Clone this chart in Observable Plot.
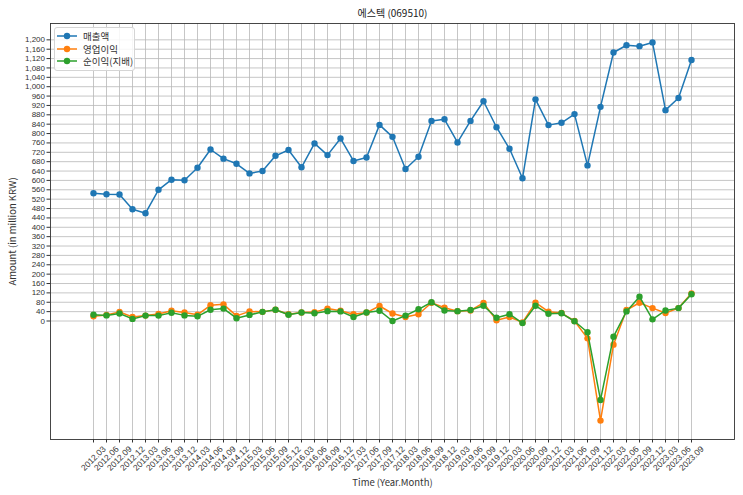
<!DOCTYPE html>
<html><head><meta charset="utf-8">
<script src="https://cdn.jsdelivr.net/npm/d3@7"></script>
<script src="https://cdn.jsdelivr.net/npm/@observablehq/plot@0.6"></script>
<style>
body{margin:0;background:#fff;}
#wrap{position:relative;width:743px;height:495px;font-family:"Noto Sans CJK KR","Noto Sans",sans-serif;}
#legend{position:absolute;left:54px;top:27px;width:79px;padding:2px 0;border:1px solid #d5d5d5;border-radius:3px;background:rgba(255,255,255,0.85);font-size:9.5px;color:#333;}
#legend .row{display:flex;align-items:center;height:12.5px;}
#legend svg{margin-left:2px;margin-right:6px;}
</style>
</head><body>
<div id="wrap"></div>
<script>
const labels = ["2012.03","2012.06","2012.09","2012.12","2013.03","2013.06","2013.09","2013.12",
"2014.03","2014.06","2014.09","2014.12","2015.03","2015.06","2015.09","2015.12",
"2016.03","2016.06","2016.09","2016.12","2017.03","2017.06","2017.09","2017.12",
"2018.03","2018.06","2018.09","2018.12","2019.03","2019.06","2019.09","2019.12",
"2020.03","2020.06","2020.09","2020.12","2021.03","2021.06","2021.09","2021.12",
"2022.03","2022.06","2022.09","2022.12","2023.03","2023.06","2023.09"];
const revenue = [545,541,540,477,460,560,603,601,654,732,693,671,630,640,705,730,656,758,708,779,
683,698,837,786,649,701,854,861,762,854,938,827,735,609,946,836,846,883,664,914,1146,1177,1173,1189,900,952,1114];
const opIncome = [20,26,39,17,23,30,44,36,27,67,71,22,41,39,48,29,36,38,53,44,
29,36,64,32,17,29,78,57,42,45,77,3,17,-6,78,40,34,0,-74,-425,-101,47,78,55,34,55,118];
const netIncome = [27,24,32,9,23,23,35,24,20,48,53,12,26,39,48,27,36,33,42,41,
17,36,44,0,23,50,80,45,42,47,65,14,29,-9,65,31,33,-1,-48,-337,-67,41,104,7,45,55,114];
const seriesNames = ["매출액","영업이익","순이익(지배)"];
const colors = ["#1f77b4","#ff7f0e","#2ca02c"];
const yTicks = d3.range(0, 1201, 40);

const rows = labels.map((t, i) => ({t, rev: revenue[i], op: opIncome[i], net: netIncome[i]}));
const all = revenue.concat(opIncome, netIncome);
const [lo, hi] = d3.extent(all);
const pad = (hi - lo) * 0.05;
const font = '"Noto Sans CJK KR","Noto Sans",sans-serif';
const numFont = '"Liberation Sans",Arial,sans-serif';
const keys = ["rev","op","net"];

const marks = [
  Plot.gridY(yTicks, {stroke: "#b8b8b8", strokeOpacity: 1, strokeWidth: 0.8}),
  Plot.gridX(labels, {stroke: "#b8b8b8", strokeOpacity: 1, strokeWidth: 0.8}),
  Plot.axisY(yTicks, {tickFormat: d3.format(","), tickSize: 3.5, tickPadding: 2, label: null, fontSize: 8, fontFamily: numFont, color: "#333"}),
  Plot.axisX(labels, {tickFormat: () => "", tickSize: 3.5, label: null}),
  Plot.text(labels, {x: d => d, text: d => d, frameAnchor: "bottom", dy: 19, rotate: -45, textAnchor: "middle", lineAnchor: "middle", fontSize: 8.5, fontFamily: numFont, fill: "#333"}),
  Plot.frame({stroke: "#333", strokeWidth: 0.9})
];
keys.forEach((k, i) => {
  marks.push(Plot.line(rows, {x: "t", y: k, stroke: colors[i], strokeWidth: 1.5}));
  marks.push(Plot.dot(rows, {x: "t", y: k, fill: colors[i], r: 3.2}));
});
marks.push(
  Plot.text(["에스텍 (069510)"], {frameAnchor: "top", dy: -10, lineAnchor: "middle", fontSize: 10, fill: "#222"}),
  Plot.text(["Amount (in million KRW)"], {frameAnchor: "left", dx: -38, rotate: -90, textAnchor: "middle", lineAnchor: "middle", fontSize: 9.5, fill: "#333"}),
  Plot.text(["Time (Year.Month)"], {frameAnchor: "bottom", dy: 43, lineAnchor: "middle", fontSize: 9.5, fill: "#333"})
);

const chart = Plot.plot({
  width: 743, height: 495,
  marginLeft: 50, marginRight: 9, marginTop: 23, marginBottom: 56,
  style: {fontFamily: font, fontSize: "8.5px", color: "#333", background: "#fff"},
  x: {type: "point", domain: labels, padding: 2.3, axis: null},
  y: {domain: [lo - pad, hi + pad], axis: null},
  marks
});
const wrap = document.getElementById("wrap");
wrap.appendChild(chart);

const leg = document.createElement("div");
leg.id = "legend";
seriesNames.forEach((name, i) => {
  const row = document.createElement("div");
  row.className = "row";
  row.innerHTML = `<svg width="20" height="8"><line x1="0" y1="4" x2="20" y2="4" stroke="${colors[i]}" stroke-width="1.5"/><circle cx="10" cy="4" r="3.2" fill="${colors[i]}"/></svg><span>${name}</span>`;
  leg.appendChild(row);
});
wrap.appendChild(leg);
</script>
</body></html>
